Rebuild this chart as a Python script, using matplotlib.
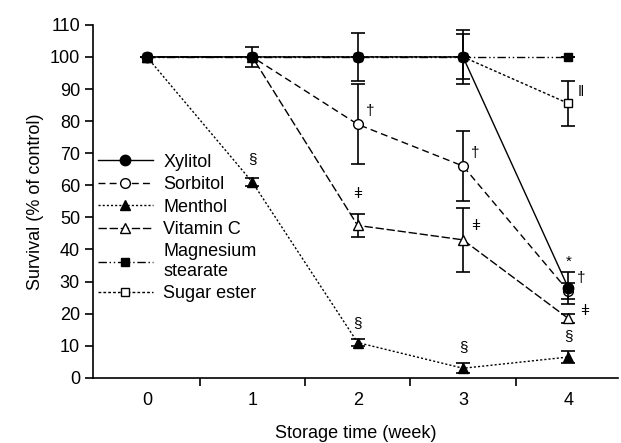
import matplotlib.pyplot as plt
from matplotlib.lines import Line2D

plt.rcParams['font.family'] = ['Liberation Sans', 'DejaVu Sans']

weeks = [0, 1, 2, 3, 4]

xylitol = [100, 100, 100, 100, 28]
xylitol_err = [0, 3, 7.5, 8.5, 5]
sorbitol = [100, 100, 79, 66, 27]
sorbitol_err = [0, 0, 12.5, 11, 2.5]
menthol = [100, 61, 11, 3, 6.5]
menthol_err = [0, 1.2, 1.2, 1.5, 2]
vitamin_c = [100, 100, 47.5, 43, 18.5]
vitamin_c_err = [0, 0, 3.5, 10, 1.5]
magnesium = [100, 100, 100, 100, 100]
magnesium_err = [0, 0, 0, 0, 0]
sugar_ester = [100, 100, 100, 100, 85.5]
sugar_ester_err = [0, 0, 0, 7, 7]

# annotations: (x, y, text)
notes = [
    (1, 66, '§'), (2, 15, '§'), (3, 7.5, '§'), (4, 11, '§'),
    (2.12, 81, '†'), (3.12, 68, '†'), (4.12, 29, '†'),
    (2, 55, 'ǂ'), (3.12, 45, 'ǂ'), (4.15, 18.5, 'ǂ'),
    (4, 34, '*'), (4.12, 87, '‖'),
]

fig = plt.figure(figsize=(6.21, 4.43), dpi=100)
ax = fig.add_axes([0.150, 0.147, 0.845, 0.797])

series = [
    ('Xylitol', xylitol, xylitol_err, 'o', 'k', '-', 12, 7.5),
    ('Sorbitol', sorbitol, sorbitol_err, 'o', 'white', (0, (5, 3)), 5, 7),
    ('Menthol', menthol, menthol_err, '^', 'k', (0, (1.5, 1.5)), 9, 7),
    ('Vitamin C', vitamin_c, vitamin_c_err, '^', 'white', (0, (6, 2)), 4, 7),
    ('Magnesium\nstearate', magnesium, magnesium_err, 's', 'k', (0, (6, 2, 1, 2, 1, 2)), 8, 6),
    ('Sugar ester', sugar_ester, sugar_ester_err, 's', 'white', (0, (2, 1.5)), 3, 6),
]

handles = []
for name, vals, errs, mk, fc, ls, z, ms in series:
    ax.errorbar(weeks, vals, yerr=errs, color='k', marker=mk, markerfacecolor=fc,
                markeredgecolor='k', markersize=ms, linestyle=ls, linewidth=1,
                elinewidth=1.2, capsize=4.7, capthick=1.2, zorder=z)
    handles.append(Line2D([], [], color='k', marker=mk, markerfacecolor=fc,
                          markeredgecolor='k', markersize=ms, linestyle=ls,
                          linewidth=1, label=name))

for x, y, t in notes:
    ax.text(x, y, t, ha='center', va='bottom', fontsize=11)

ax.set_xlim(-0.51, 4.47)
ax.set_ylim(0, 110)
ax.set_yticks(range(0, 111, 10))
ax.set_xticks(weeks)
ax.set_xticks([0.5, 1.5, 2.5, 3.5], minor=True)
ax.tick_params(axis='x', which='major', length=0, pad=10, labelsize=13)
ax.tick_params(axis='x', which='minor', direction='out', length=6, width=1.2)
ax.tick_params(axis='y', direction='out', length=6, width=1.2, labelsize=13)
ax.spines['top'].set_visible(False)
ax.spines['right'].set_visible(False)
ax.spines['left'].set_linewidth(1.2)
ax.spines['bottom'].set_linewidth(1.2)

ax.set_xlabel('Storage time (week)', fontsize=13, labelpad=12)
ax.set_ylabel('Survival (% of control)', fontsize=13)

ax.legend(handles=handles, loc='upper left', bbox_to_anchor=(0.01, 0.635),
          frameon=False, fontsize=13, handlelength=3.0, handletextpad=0.6,
          labelspacing=0.3, borderaxespad=0, borderpad=0)

fig.savefig('out.png', dpi=100)
